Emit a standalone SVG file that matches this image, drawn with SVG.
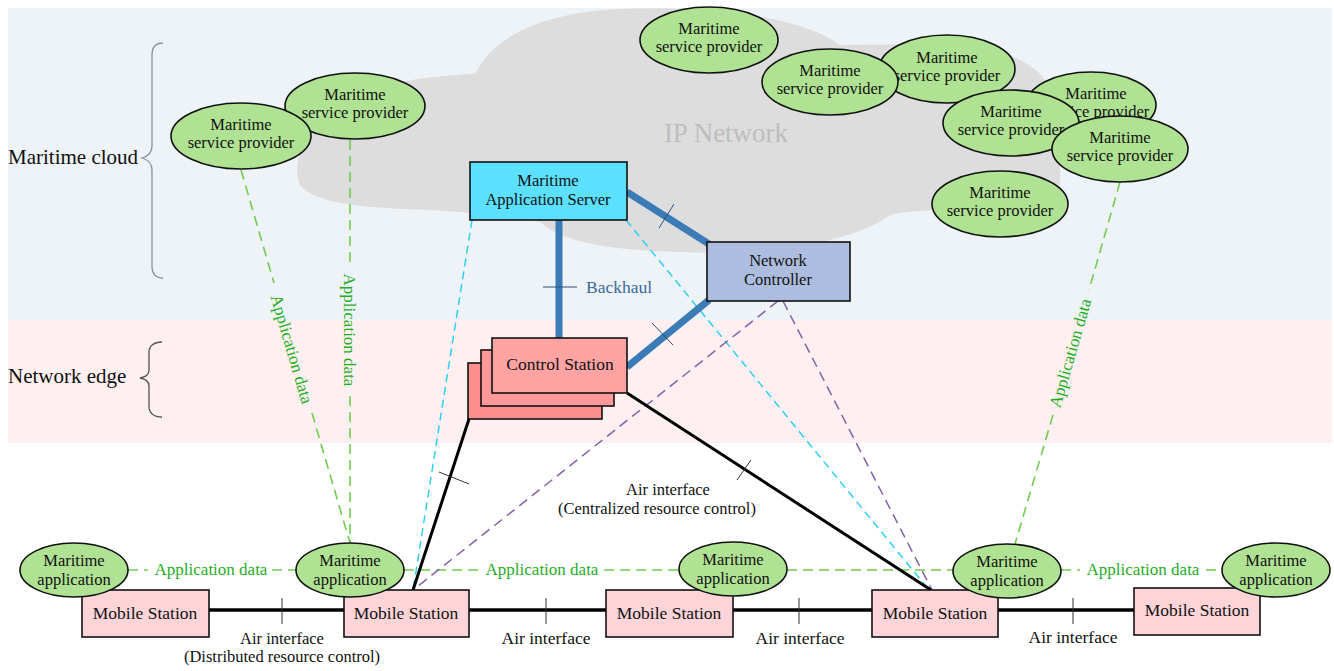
<svg xmlns="http://www.w3.org/2000/svg" width="1334" height="671" viewBox="0 0 1334 671">
<style>
.t{font-family:"Liberation Serif","Times New Roman",serif;font-size:17.5px;fill:#111;text-anchor:middle}
.t2{font-family:"Liberation Serif","Times New Roman",serif;font-size:16.5px;fill:#111;text-anchor:middle}
.g{font-family:"Liberation Serif","Times New Roman",serif;font-size:17px;fill:#1fae1f;text-anchor:middle}
.lbl{font-family:"Liberation Serif","Times New Roman",serif;font-size:21px;fill:#111}
.sp{fill:#b0e294;stroke:#111;stroke-width:1.6}
.ms{fill:#fdd5d8;stroke:#111;stroke-width:1.6}
.bh{stroke:#3b7bb6;stroke-width:7;fill:none}
.tick{stroke:#2a4f78;stroke-width:1}
.tk{stroke:#333;stroke-width:1}
.air{stroke:#000;stroke-width:3.5;fill:none}
.air2{stroke:#000;stroke-width:3;fill:none}
.gd{stroke:#70cc50;stroke-width:1.6;stroke-dasharray:10 6;fill:none}
.cd{stroke:#2ed0f0;stroke-width:1.5;stroke-dasharray:8 5;fill:none}
.pd{stroke:#8262aa;stroke-width:1.5;stroke-dasharray:10 6;fill:none}
</style>
<rect x="0" y="0" width="1334" height="671" fill="#ffffff"/>
<rect x="8" y="8" width="1324" height="312" fill="#eef3f7"/>
<rect x="8" y="320" width="1324" height="123" fill="#fef0f0"/>
<path d="M300,185 C285,150 330,90 425,78 C440,76 465,75 476,73 C490,40 540,12 620,9 C700,5 800,15 840,45 C880,44 940,44 975,48 C1040,55 1062,90 1060,130 L1060,180 C1060,200 1045,208 1025,208 C960,208 910,210 890,215 C850,245 760,255 680,252 C600,250 560,240 540,222 C500,215 460,212 430,210 C370,208 315,205 300,185 Z" fill="#dddddd"/>
<text x="726" y="142" font-family="Liberation Serif, Times New Roman, serif" font-size="27" fill="#bdbdbd" text-anchor="middle">IP Network</text>
<g id="region-labels">
<text class="lbl" x="8" y="164">Maritime cloud</text>
<path d="M163,43 C155,43 152,47 152,55 L152,146 C152,152 149,156 142,158 C149,160 152,164 152,170 L152,266 C152,274 155,278 163,278" fill="none" stroke="#8c9098" stroke-width="1.3"/>
<text class="lbl" x="8" y="383">Network edge</text>
<path d="M162,342 C154,342 149,346 149,352 L149,370 C149,374 146,377 140,378 C146,379 149,382 149,386 L149,407 C149,413 154,417 162,417" fill="none" stroke="#555" stroke-width="1.3"/>
</g>
<g id="connectors">
<line class="gd" x1="241" y1="170" x2="274" y2="283"/>
<line class="gd" x1="312" y1="413" x2="350" y2="543"/>
<text class="g" transform="translate(292,349) rotate(73.7)" y="6">Application data</text>
<line class="gd" x1="350" y1="140" x2="350" y2="264"/>
<line class="gd" x1="350" y1="396" x2="350" y2="543"/>
<text class="g" transform="translate(350,330) rotate(90)" y="6">Application data</text>
<line class="gd" x1="1120" y1="182" x2="1089" y2="290"/>
<line class="gd" x1="1053" y1="415" x2="1015" y2="544"/>
<text class="g" transform="translate(1070,353) rotate(-73.9)" y="6">Application data</text>
<line class="gd" x1="128" y1="570" x2="148" y2="570"/>
<text class="g" x="211" y="575">Application data</text>
<line class="gd" x1="272" y1="570" x2="296" y2="570"/>
<line class="gd" x1="404" y1="570" x2="480" y2="570"/>
<text class="g" x="542" y="575">Application data</text>
<line class="gd" x1="604" y1="570" x2="679" y2="570"/>
<line class="gd" x1="787" y1="570" x2="953" y2="570"/>
<line class="gd" x1="1061" y1="570" x2="1080" y2="570"/>
<text class="g" x="1143" y="575">Application data</text>
<line class="gd" x1="1206" y1="570" x2="1221" y2="570"/>
<line class="cd" x1="472" y1="220" x2="413" y2="590"/>
<line class="cd" x1="626" y1="220" x2="929" y2="590"/>
<line class="pd" x1="778" y1="301" x2="413" y2="590"/>
<line class="pd" x1="783" y1="301" x2="932" y2="590"/>
<line class="bh" x1="559" y1="220" x2="559" y2="338"/>
<line class="bh" x1="627" y1="192" x2="709" y2="244"/>
<line class="bh" x1="627" y1="367" x2="709" y2="300"/>
<line class="tick" x1="543" y1="287" x2="577" y2="287"/>
<line class="tick" x1="659" y1="228" x2="674" y2="204"/>
<line class="tick" x1="652" y1="323" x2="673" y2="345"/>
<text x="586" y="293" font-family="Liberation Serif, Times New Roman, serif" font-size="17.5" fill="#3a6a9a">Backhaul</text>
<line class="air2" x1="469" y1="419" x2="413" y2="590"/>
<line class="tk" x1="439" y1="472" x2="469" y2="484"/>
<line class="air2" x1="627" y1="393" x2="931" y2="590"/>
<line class="tk" x1="737" y1="480" x2="751" y2="460"/>
<text class="t2" y="495"><tspan x="668">Air interface</tspan><tspan x="657" y="513.5">(Centralized resource control)</tspan></text>
<line class="air" x1="209" y1="610" x2="344" y2="610"/>
<line class="tk" x1="282" y1="598" x2="282" y2="624"/>
<text class="t2" y="643.5"><tspan x="282">Air interface</tspan><tspan x="282" y="662">(Distributed resource control)</tspan></text>
<line class="air" x1="469" y1="610" x2="606" y2="610"/>
<line class="tk" x1="546" y1="598" x2="546" y2="624"/>
<text class="t" x="546" y="644">Air interface</text>
<line class="air" x1="733" y1="610" x2="872" y2="610"/>
<line class="tk" x1="799" y1="598" x2="799" y2="624"/>
<text class="t" x="800" y="644">Air interface</text>
<line class="air" x1="998" y1="610" x2="1134" y2="610"/>
<line class="tk" x1="1073" y1="598" x2="1073" y2="624"/>
<text class="t" x="1073" y="643">Air interface</text>
</g>
<g id="sp-b"><ellipse class="sp" cx="355" cy="106" rx="70" ry="33"/><text class="t2" y="99.5"><tspan x="355">Maritime</tspan><tspan x="355" y="118">service provider</tspan></text></g>
<g id="sp-a"><ellipse class="sp" cx="241" cy="136" rx="70" ry="33"/><text class="t2" y="129.5"><tspan x="241">Maritime</tspan><tspan x="241" y="148">service provider</tspan></text></g>
<g id="sp-c"><ellipse class="sp" cx="709" cy="40" rx="69" ry="33"/><text class="t2" y="33.5"><tspan x="709">Maritime</tspan><tspan x="709" y="52">service provider</tspan></text></g>
<g id="sp-e"><ellipse class="sp" cx="947" cy="69" rx="68" ry="34"/><text class="t2" y="62.5"><tspan x="947">Maritime</tspan><tspan x="947" y="81">service provider</tspan></text></g>
<g id="sp-d"><ellipse class="sp" cx="830" cy="82" rx="68" ry="33"/><text class="t2" y="75.5"><tspan x="830">Maritime</tspan><tspan x="830" y="94">service provider</tspan></text></g>
<g id="sp-f"><ellipse class="sp" cx="1091" cy="105" rx="65" ry="33"/><text class="t2" y="98.5"><tspan x="1096">Maritime</tspan><tspan x="1096" y="117">service provider</tspan></text></g>
<g id="sp-g"><ellipse class="sp" cx="1011" cy="123" rx="68" ry="33"/><text class="t2" y="116.5"><tspan x="1011">Maritime</tspan><tspan x="1011" y="135">service provider</tspan></text></g>
<g id="sp-h"><ellipse class="sp" cx="1120" cy="149" rx="68" ry="33"/><text class="t2" y="142.5"><tspan x="1120">Maritime</tspan><tspan x="1120" y="161">service provider</tspan></text></g>
<g id="sp-i"><ellipse class="sp" cx="1000" cy="204" rx="68" ry="33"/><text class="t2" y="197.5"><tspan x="1000">Maritime</tspan><tspan x="1000" y="216">service provider</tspan></text></g>
<g id="app-server"><rect x="470" y="162" width="157" height="58" fill="#5be0fe" stroke="#111" stroke-width="1.6"/><text class="t2" y="186"><tspan x="548">Maritime</tspan><tspan x="548" y="204.5">Application Server</tspan></text></g>
<g id="network-controller"><rect x="707" y="242" width="143" height="59" fill="#adbddf" stroke="#111" stroke-width="1.6"/><text class="t2" y="266"><tspan x="778">Network</tspan><tspan x="778" y="284.5">Controller</tspan></text></g>
<g id="control-station">
<rect x="468" y="363" width="134" height="56" fill="#ff8e8e" stroke="#111" stroke-width="1.6"/>
<rect x="481" y="350" width="133" height="56" fill="#ff9999" stroke="#111" stroke-width="1.6"/>
<rect x="492" y="338" width="135" height="55" fill="#ffa3a3" stroke="#111" stroke-width="1.6"/>
<text class="t" x="560" y="370">Control Station</text>
</g>
<g id="ms1"><rect class="ms" x="82" y="590" width="127" height="47"/><text class="t" x="145" y="619">Mobile Station</text></g>
<g id="ms2"><rect class="ms" x="344" y="590" width="125" height="47"/><text class="t" x="406" y="619">Mobile Station</text></g>
<g id="ms3"><rect class="ms" x="606" y="590" width="127" height="47"/><text class="t" x="669" y="619">Mobile Station</text></g>
<g id="ms4"><rect class="ms" x="872" y="590" width="126" height="47"/><text class="t" x="935" y="619">Mobile Station</text></g>
<g id="ms5"><rect class="ms" x="1134" y="588" width="126" height="47"/><text class="t" x="1197" y="616">Mobile Station</text></g>
<g id="app1"><ellipse class="sp" cx="74" cy="570" rx="54" ry="27"/><text class="t2" y="566"><tspan x="74">Maritime</tspan><tspan x="74" y="584.5">application</tspan></text></g>
<g id="app2"><ellipse class="sp" cx="350" cy="570" rx="54" ry="27"/><text class="t2" y="566"><tspan x="350">Maritime</tspan><tspan x="350" y="584.5">application</tspan></text></g>
<g id="app3"><ellipse class="sp" cx="733" cy="569" rx="54" ry="27"/><text class="t2" y="565"><tspan x="733">Maritime</tspan><tspan x="733" y="583.5">application</tspan></text></g>
<g id="app4"><ellipse class="sp" cx="1007" cy="571" rx="54" ry="27"/><text class="t2" y="567"><tspan x="1007">Maritime</tspan><tspan x="1007" y="585.5">application</tspan></text></g>
<g id="app5"><ellipse class="sp" cx="1276" cy="570" rx="54" ry="27"/><text class="t2" y="566"><tspan x="1276">Maritime</tspan><tspan x="1276" y="584.5">application</tspan></text></g>
</svg>
